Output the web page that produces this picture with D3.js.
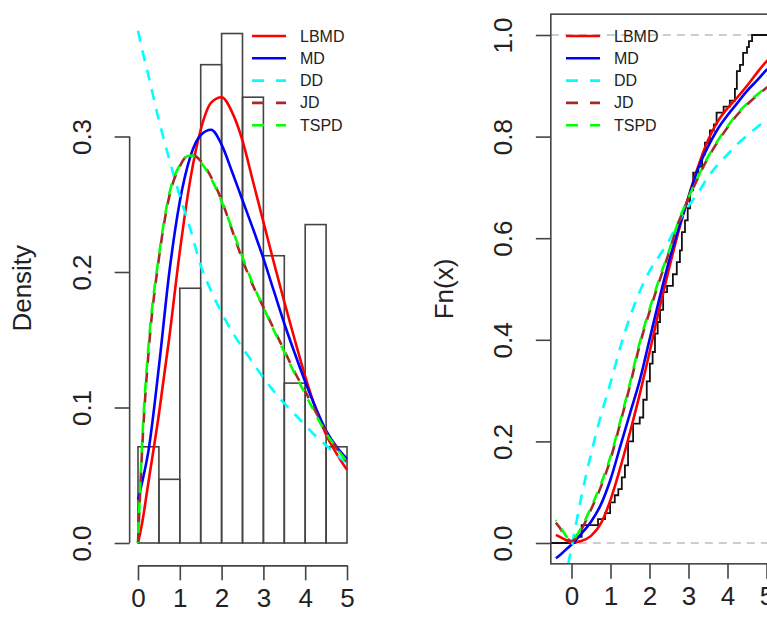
<!DOCTYPE html>
<html>
<head>
<meta charset="utf-8">
<script src="https://cdn.jsdelivr.net/npm/d3@7"></script>
<style>
  html, body { margin: 0; padding: 0; background: #fff; }
  text { font-family: "Liberation Sans", Arial, sans-serif; fill: #222; }
</style>
</head>
<body>
<div id="chart"></div>
<script>
// series names, colours and line types
const seriesNames = ['LBMD', 'MD', 'DD', 'JD', 'TSPD'];
const seriesColors = ['#ff0000', '#0000ff', '#00ffff', '#a52a2a', '#00ff00'];
const seriesDashed = [false, false, true, true, true];

// histogram (left panel)
const histBreaks = [0, 0.5, 1, 1.5, 2, 2.5, 3, 3.5, 4, 4.5, 5];
const histDensity = [0.071, 0.047, 0.188, 0.353, 0.376, 0.329, 0.212, 0.118, 0.235, 0.071];

// fitted densities
const densX = [0, 0.1, 0.25, 0.5, 0.75, 1, 1.25, 1.5, 1.75, 2, 2.25, 2.5, 2.75, 3, 3.25, 3.5, 3.75, 4, 4.25, 4.5, 4.75, 5];
const lbmdDens = [0, 0.015, 0.045, 0.095, 0.152, 0.215, 0.268, 0.305, 0.325, 0.329, 0.318, 0.297, 0.267, 0.237, 0.207, 0.178, 0.15, 0.123, 0.099, 0.08, 0.066, 0.054];
const mdDens = [0.032, 0.045, 0.068, 0.13, 0.2, 0.252, 0.285, 0.301, 0.305, 0.294, 0.274, 0.253, 0.232, 0.21, 0.186, 0.162, 0.14, 0.119, 0.1, 0.083, 0.071, 0.062];
const ddDens = [0.378, 0.364, 0.345, 0.312, 0.283, 0.256, 0.232, 0.205, 0.186, 0.17, 0.156, 0.144, 0.133, 0.122, 0.112, 0.103, 0.095, 0.087, 0.079, 0.072, 0.065, 0.059];
const jdDens = [0, 0.07, 0.14, 0.21, 0.256, 0.278, 0.287, 0.282, 0.27, 0.253, 0.231, 0.209, 0.19, 0.174, 0.158, 0.142, 0.126, 0.112, 0.097, 0.082, 0.07, 0.06];
const tspdDens = [0, 0.075, 0.145, 0.212, 0.258, 0.279, 0.286, 0.281, 0.269, 0.252, 0.232, 0.211, 0.191, 0.174, 0.157, 0.141, 0.125, 0.11, 0.095, 0.081, 0.07, 0.06];

// empirical cdf (right panel): jump positions and level after each jump
const ecdfX = [0.1, 0.26, 0.68, 0.86, 0.99, 1.11, 1.2, 1.29, 1.37, 1.45, 1.58, 1.75, 1.84, 1.93, 2.01, 2.08, 2.14, 2.21, 2.27, 2.35, 2.45, 2.6, 2.7, 2.78, 2.83, 2.91, 2.98, 3.04, 3.12, 3.25, 3.35, 3.42, 3.55, 3.65, 3.72, 3.9, 4.06, 4.19, 4.24, 4.32, 4.4, 4.5, 4.55, 4.63];
const ecdfY = [0.012, 0.035, 0.047, 0.059, 0.08, 0.094, 0.106, 0.129, 0.153, 0.2, 0.235, 0.247, 0.282, 0.318, 0.353, 0.376, 0.412, 0.435, 0.459, 0.494, 0.506, 0.529, 0.553, 0.576, 0.612, 0.635, 0.659, 0.694, 0.729, 0.741, 0.765, 0.788, 0.812, 0.824, 0.847, 0.859, 0.871, 0.894, 0.929, 0.941, 0.965, 0.976, 0.988, 1.0];

// fitted cdfs (null = not drawn)
const cdfX = [-0.4, -0.3, -0.2, -0.1, 0, 0.25, 0.5, 0.75, 1, 1.25, 1.5, 1.75, 2, 2.25, 2.5, 2.75, 3, 3.25, 3.5, 3.75, 4, 4.25, 4.5, 4.75, 5, 5.25, 5.5];
const lbmdCdf = [0.016, 0.012, 0.008, 0.004, 0.001, 0.004, 0.014, 0.038, 0.085, 0.148, 0.218, 0.293, 0.375, 0.46, 0.54, 0.615, 0.682, 0.742, 0.793, 0.83, 0.856, 0.877, 0.9, 0.925, 0.948, 0.962, 0.972];
const mdCdf = [-0.03, -0.024, -0.017, -0.01, -0.003, 0.018, 0.042, 0.075, 0.125, 0.19, 0.255, 0.32, 0.4, 0.48, 0.555, 0.62, 0.68, 0.738, 0.78, 0.815, 0.842, 0.866, 0.89, 0.91, 0.931, 0.945, 0.958];
const ddCdf = [null, null, -0.12, -0.05, -0.01, 0.09, 0.175, 0.25, 0.315, 0.385, 0.445, 0.495, 0.535, 0.565, 0.595, 0.633, 0.663, 0.69, 0.72, 0.745, 0.765, 0.785, 0.802, 0.818, 0.833, 0.847, 0.86];
const jdCdf = [0.04, 0.03, 0.018, 0.008, 0.004, 0.026, 0.066, 0.11, 0.165, 0.236, 0.31, 0.39, 0.455, 0.515, 0.572, 0.632, 0.678, 0.72, 0.758, 0.79, 0.818, 0.843, 0.863, 0.88, 0.896, 0.91, 0.922];
const tspdCdf = [0.045, 0.033, 0.021, 0.01, 0.006, 0.03, 0.07, 0.115, 0.17, 0.24, 0.315, 0.395, 0.46, 0.52, 0.575, 0.635, 0.68, 0.722, 0.76, 0.792, 0.82, 0.845, 0.865, 0.882, 0.898, 0.912, 0.924];

const densSeries = [lbmdDens, mdDens, ddDens, jdDens, tspdDens];
const cdfSeries = [lbmdCdf, mdCdf, ddCdf, jdCdf, tspdCdf];

const yTicksL = [0, 0.1, 0.2, 0.3];
const yTicksR = [0, 0.2, 0.4, 0.6, 0.8, 1];
const xTicks = [0, 1, 2, 3, 4, 5];

const width = 767;
const height = 623;
const axisColor = '#444';
const tickFont = 26;

const svg = d3.select('#chart')
  .append('svg')
  .attr('width', width)
  .attr('height', height);

// scales for the two panels
const xL = d3.scaleLinear().domain([0, 5]).range([138, 347]);
const yL = d3.scaleLinear().domain([0, 0.3]).range([543, 136.5]);
const xR = d3.scaleLinear().domain([0, 5]).range([571.5, 766.5]);
const yR = d3.scaleLinear().domain([0, 1]).range([543, 35]);

// plot regions (R style 4% extension)
const regL = { x0: xL(-0.2), x1: xL(5.2), y0: yL(0.391), y1: yL(-0.015) };
const regR = { x0: xR(-0.53), x1: xR(5.55), y0: yR(1.041), y1: yR(-0.041) };

const defs = svg.append('defs');
defs.append('clipPath').attr('id', 'clipL')
  .append('rect')
  .attr('x', regL.x0).attr('y', regL.y0)
  .attr('width', regL.x1 - regL.x0).attr('height', regL.y1 - regL.y0);
defs.append('clipPath').attr('id', 'clipR')
  .append('rect')
  .attr('x', regR.x0).attr('y', regR.y0)
  .attr('width', regR.x1 - regR.x0).attr('height', regR.y1 - regR.y0);

function styleLine(sel, i) {
  sel.attr('fill', 'none')
    .attr('stroke', seriesColors[i])
    .attr('stroke-width', 2.6)
    .attr('stroke-dasharray', seriesDashed[i] ? '11,9' : null)
    .attr('stroke-dashoffset', i === 4 ? 10 : 0);
}

// ---------- left panel: histogram + densities ----------
const gL = svg.append('g');

gL.selectAll('.bar')
  .data(histDensity)
  .enter()
  .append('rect')
  .attr('class', 'bar')
  .attr('x', (d, i) => xL(histBreaks[i]))
  .attr('width', (d, i) => xL(histBreaks[i + 1]) - xL(histBreaks[i]))
  .attr('y', d => yL(d))
  .attr('height', d => yL(0) - yL(d))
  .attr('fill', 'none')
  .attr('stroke', axisColor)
  .attr('stroke-width', 1.6);

const densLine = d3.line()
  .x((d, i) => xL(densX[i]))
  .y(d => yL(d))
  .curve(d3.curveMonotoneX);

const gDens = gL.append('g').attr('clip-path', 'url(#clipL)');
densSeries.forEach((s, i) => {
  gDens.append('path')
    .attr('d', densLine(s))
    .call(styleLine, i);
});

// axes (R style: line spans first to last tick)
const yAxisL = d3.axisLeft(yL).tickValues(yTicksL).tickSize(15).tickFormat(d3.format('.1f')).tickSizeOuter(0);
const gYL = gL.append('g').attr('transform', `translate(${regL.x0},0)`).call(yAxisL);
gYL.select('.domain').attr('d', `M0,${yL(0)}V${yL(0.3)}`);

const xAxisL = d3.axisBottom(xL).tickValues(xTicks).tickSize(15).tickFormat(d3.format('d')).tickSizeOuter(0);
const gXL = gL.append('g').attr('transform', `translate(0,${regL.y1 + 2})`).call(xAxisL);

// ---------- right panel: ecdf + cdfs ----------
const gR = svg.append('g');

// reference lines at 0 and 1
gR.selectAll('.hline')
  .data([0, 1])
  .enter()
  .append('line')
  .attr('x1', regR.x0).attr('x2', regR.x1)
  .attr('y1', d => yR(d)).attr('y2', d => yR(d))
  .attr('stroke', '#bdbdbd')
  .attr('stroke-width', 1.6)
  .attr('stroke-dasharray', '8,6');

// step function
const steps = [[-0.53, 0]];
ecdfX.forEach((x, i) => {
  steps.push([x, i === 0 ? 0 : ecdfY[i - 1]]);
  steps.push([x, ecdfY[i]]);
});
steps.push([5.55, 1]);

const gCdf = gR.append('g').attr('clip-path', 'url(#clipR)');
gCdf.append('path')
  .attr('d', d3.line().x(d => xR(d[0])).y(d => yR(d[1]))(steps))
  .attr('fill', 'none')
  .attr('stroke', '#111')
  .attr('stroke-width', 1.8);

const cdfLine = d3.line()
  .defined(d => d !== null)
  .x((d, i) => xR(cdfX[i]))
  .y(d => yR(d))
  .curve(d3.curveMonotoneX);

cdfSeries.forEach((s, i) => {
  gCdf.append('path')
    .attr('d', cdfLine(s))
    .call(styleLine, i);
});

// box
gR.append('rect')
  .attr('x', regR.x0).attr('y', regR.y0)
  .attr('width', regR.x1 - regR.x0).attr('height', regR.y1 - regR.y0)
  .attr('fill', 'none')
  .attr('stroke', axisColor)
  .attr('stroke-width', 1.6);

const yAxisR = d3.axisLeft(yR).tickValues(yTicksR).tickSize(15).tickFormat(d3.format('.1f')).tickSizeOuter(0);
const gYR = gR.append('g').attr('transform', `translate(${regR.x0},0)`).call(yAxisR);
gYR.select('.domain').remove();

const xAxisR = d3.axisBottom(xR).tickValues(xTicks).tickSize(15).tickFormat(d3.format('d')).tickSizeOuter(0);
const gXR = gR.append('g').attr('transform', `translate(0,${regR.y1})`).call(xAxisR);
gXR.select('.domain').remove();

// common axis styling
[gYL, gXL, gYR, gXR].forEach(g => {
  g.selectAll('.domain').attr('stroke', axisColor).attr('stroke-width', 1.6);
  g.selectAll('.tick line').attr('stroke', axisColor).attr('stroke-width', 1.6);
  g.selectAll('.tick text')
    .attr('fill', '#222')
    .style('font-size', tickFont + 'px')
    .style('font-family', '"Liberation Sans", Arial, sans-serif');
});
// x tick labels
[gXL, gXR].forEach(g => {
  g.selectAll('.tick text').attr('y', 23).attr('dy', '0.71em');
});
// y tick labels are rotated like R's default
[gYL, gYR].forEach(g => {
  g.selectAll('.tick text')
    .attr('x', null).attr('dy', null)
    .attr('text-anchor', 'middle')
    .attr('dominant-baseline', 'central')
    .attr('transform', 'translate(-48,0) rotate(-90)');
});

// axis titles
svg.append('text')
  .attr('transform', `translate(22,${(regL.y0 + regL.y1) / 2}) rotate(-90)`)
  .attr('text-anchor', 'middle')
  .attr('dominant-baseline', 'central')
  .style('font-size', tickFont + 'px')
  .text('Density');

svg.append('text')
  .attr('transform', `translate(444,${(regR.y0 + regR.y1) / 2}) rotate(-90)`)
  .attr('text-anchor', 'middle')
  .attr('dominant-baseline', 'central')
  .style('font-size', tickFont + 'px')
  .text('Fn(x)');

// legends (no box)
function legend(x0) {
  const g = svg.append('g').attr('transform', `translate(${x0},36)`);
  seriesNames.forEach((name, i) => {
    const row = g.append('g').attr('transform', `translate(0,${i * 22.3})`);
    row.append('line')
      .attr('x1', 0).attr('x2', 34)
      .attr('y1', 0).attr('y2', 0)
      .attr('stroke', seriesColors[i])
      .attr('stroke-width', 2.6)
      .attr('stroke-dasharray', seriesDashed[i] ? '12,12' : null);
    row.append('text')
      .attr('x', 48)
      .attr('dominant-baseline', 'central')
      .style('font-size', '16px')
      .text(name);
  });
}
legend(252);
legend(566);
</script>
</body>
</html>
